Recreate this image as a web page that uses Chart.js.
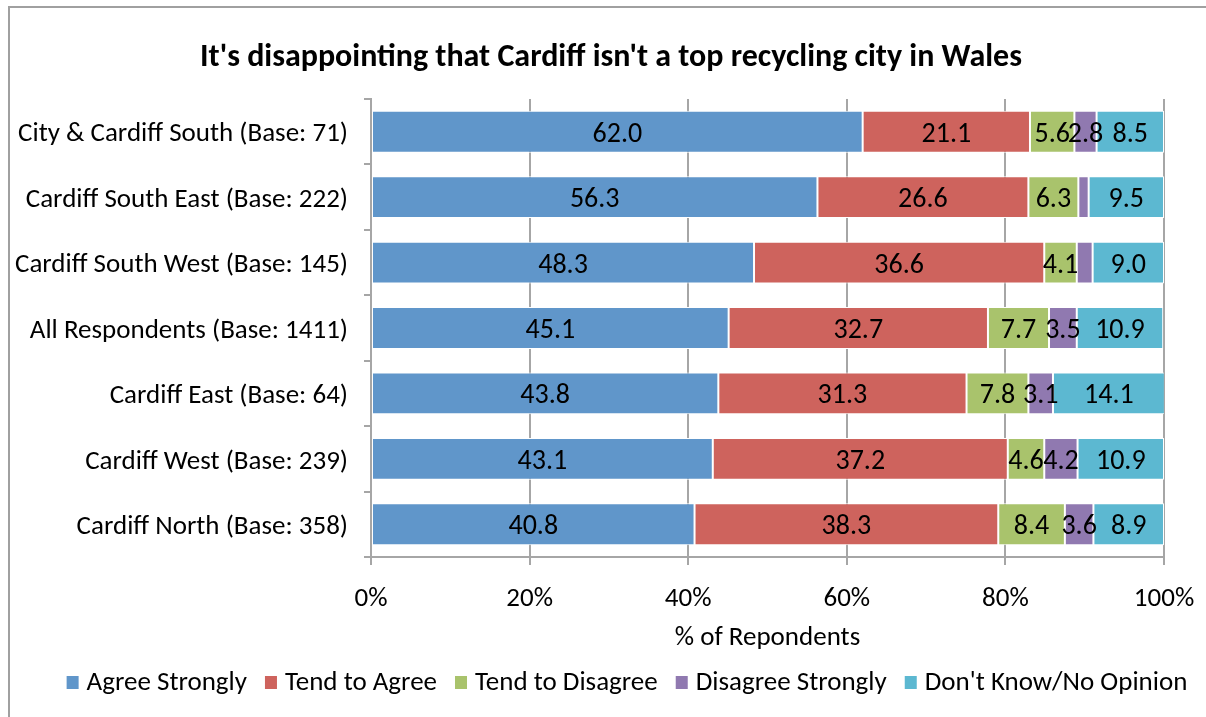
<!DOCTYPE html>
<html><head><meta charset="utf-8">
<script src="https://cdn.jsdelivr.net/npm/chart.js@4/dist/chart.umd.min.js"></script>
<style>html,body{margin:0;padding:0;background:#fff;}#wrap{width:1206px;height:717px;}</style>
</head><body><div id="wrap"><canvas id="c" width="1206" height="717"></canvas></div>
<script>
const categories = ["City & Cardiff South (Base: 71)","Cardiff South East (Base: 222)","Cardiff South West (Base: 145)","All Respondents (Base: 1411)","Cardiff East (Base: 64)","Cardiff West (Base: 239)","Cardiff North (Base: 358)"];
const agreeStrongly = [62.0,56.3,48.3,45.1,43.8,43.1,40.8];
const tendToAgree = [21.1,26.6,36.6,32.7,31.3,37.2,38.3];
const tendToDisagree = [5.6,6.3,4.1,7.7,7.8,4.6,8.4];
const disagreeStrongly = [2.8,1.3,2.0,3.5,3.1,4.2,3.6];
const dontKnow = [8.5,9.5,9.0,10.9,14.1,10.9,8.9];
const xTicks = [0,20,40,60,80,100];
const titleText = "It's disappointing that Cardiff isn't a top recycling city in Wales";

const FONT = "Carlito, Lato, 'Open Sans', sans-serif";

const labelPlugin = {
  id:'labels',
  afterDatasetsDraw(chart){
    const ctx = chart.ctx;
    ctx.save();
    ctx.font = "28px " + FONT;
    ctx.fillStyle = "#000";
    ctx.textAlign = "center";
    ctx.textBaseline = "middle";
    chart.data.datasets.forEach((ds,i)=>{
      const meta = chart.getDatasetMeta(i);
      meta.data.forEach((el,j)=>{
        const v = ds.data[j];
        if (v < 2.5) return;
        ctx.fillText(v.toFixed(1), (el.x+el.base)/2, el.y+3);
      });
    });
    ctx.restore();
  }
};
const framePlugin = {
  id:'frame',
  beforeDraw(chart){
    const ctx = chart.ctx;
    ctx.save();
    ctx.fillStyle = "#fff";
    ctx.fillRect(0,0,chart.width,chart.height);
    ctx.strokeStyle = "#a0a0a0";
    ctx.lineWidth = 2;
    ctx.strokeRect(9,7,1300,800);
    ctx.restore();
  },
  afterDraw(chart){
    const ctx = chart.ctx;
    ctx.save();
    // title
    ctx.font = "bold 32px " + FONT;
    ctx.fillStyle = "#000";
    ctx.textAlign = "center";
    ctx.textBaseline = "middle";
    ctx.fillText(titleText, 611, 58);
    // legend
    ctx.font = "27px " + FONT;
    ctx.textAlign = "left";
    const box = 12, gap = 8, spacing = 18;
    const items = chart.data.datasets.map(d=>({label:d.label,color:d.backgroundColor,w:ctx.measureText(d.label).width}));
    const total = items.reduce((s,it)=>s+box+gap+it.w,0) + spacing*(items.length-1);
    let x = 627 - total/2;
    const y = 682;
    items.forEach(it=>{
      ctx.fillStyle = it.color;
      ctx.fillRect(x, y-6, box, 13);
      ctx.fillStyle = "#000";
      ctx.fillText(it.label, x+box+gap, y+1);
      x += box+gap+it.w+spacing;
    });
    ctx.restore();
  }
};

const mk = (label,data,color)=>({label,data,backgroundColor:color,borderColor:'#fff',borderWidth:1,borderSkipped:false,barPercentage:0.64,categoryPercentage:1});

new Chart(document.getElementById('c'),{
  type:'bar',
  data:{labels:categories,datasets:[
    mk("Agree Strongly",agreeStrongly,'#6096CA'),
    mk("Tend to Agree",tendToAgree,'#CE635D'),
    mk("Tend to Disagree",tendToDisagree,'#A9C36C'),
    mk("Disagree Strongly",disagreeStrongly,'#9079B0'),
    mk("Don't Know/No Opinion",dontKnow,'#5CB8D1')
  ]},
  options:{
    responsive:false,animation:false,indexAxis:'y',
    layout:{padding:{left:12,right:42,top:99,bottom:60}},
    plugins:{
      title:{display:false},
      legend:{display:false},
      tooltip:{enabled:false}
    },
    scales:{
      x:{stacked:true,min:0,max:100,
        afterBuildTicks(s){s.ticks = xTicks.map(v=>({value:v}));},
        afterFit(s){s.height = 100; s.paddingRight = 0; s.paddingLeft = 0;},
        ticks:{callback:v=>v+'%',font:{family:FONT,size:27},color:'#000',padding:18,maxRotation:0},
        grid:{color:'#a6a6a6',lineWidth:2,tickLength:8},
        border:{color:'#a6a6a6',width:2},
        title:{display:true,text:'% of Repondents',font:{family:FONT,size:27},color:'#000',padding:{top:0,bottom:3}}
      },
      y:{stacked:true,
        afterFit(s){s.width = 371-12;},
        ticks:{font:{family:FONT,size:27},color:'#000',padding:16,labelOffset:3},
        grid:{display:true,drawOnChartArea:false,color:'#a6a6a6',lineWidth:2,tickLength:7,offset:true},
        border:{color:'#a6a6a6',width:2}
      }
    }
  },
  plugins:[framePlugin,labelPlugin]
});
</script></body></html>
